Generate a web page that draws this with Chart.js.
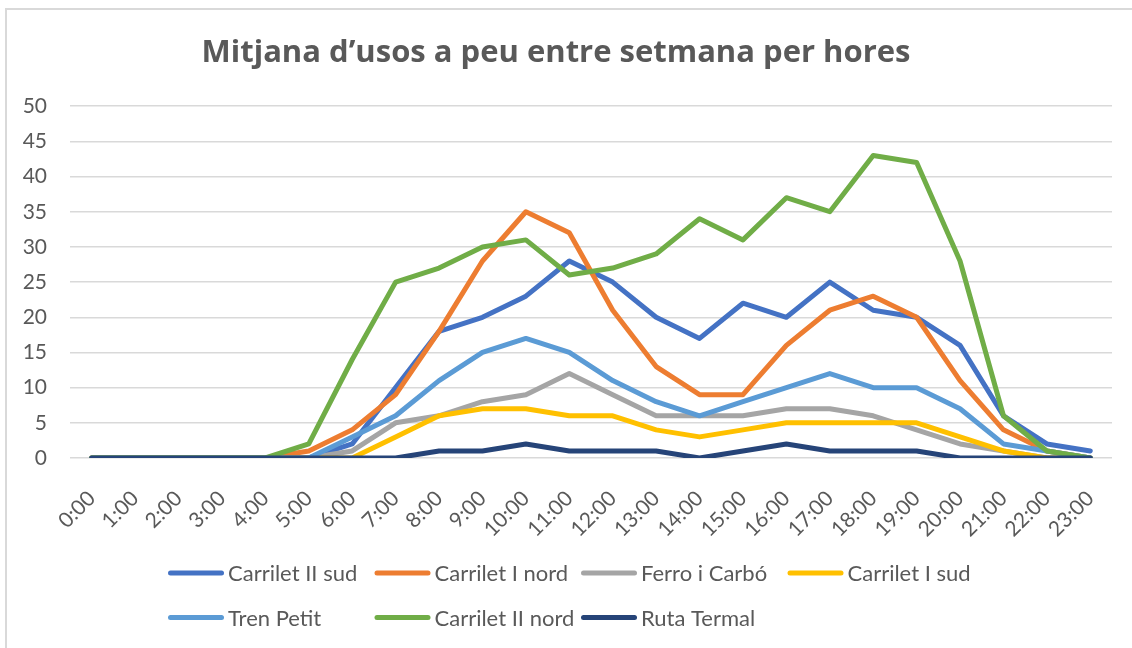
<!DOCTYPE html>
<html>
<head>
<meta charset="utf-8">
<script src="https://cdn.jsdelivr.net/npm/chart.js@4.4.1/dist/chart.umd.min.js"></script>
<style>
  body { margin: 0; background: #fff; overflow: hidden; }
  #wrap { position: relative; width: 1132px; height: 648px; }
  #frame { position: absolute; left: 5px; top: 8px; width: 1200px; height: 700px; border: 2px solid #d9d9d9; }
  canvas { position: absolute; left: 0; top: 0; }
</style>
</head>
<body>
<div id="wrap">
  <div id="frame"></div>
  <canvas id="usosChart" width="1132" height="648"></canvas>
</div>
<script>
const hours = ['0:00', '1:00', '2:00', '3:00', '4:00', '5:00', '6:00', '7:00', '8:00', '9:00', '10:00', '11:00',
    '12:00', '13:00', '14:00', '15:00', '16:00', '17:00', '18:00', '19:00', '20:00', '21:00', '22:00', '23:00'];

const carriletIISud  = [0, 0, 0, 0, 0, 0, 2, 10, 18, 20, 23, 28, 25, 20, 17, 22, 20, 25, 21, 20, 16, 6, 2, 1];
const carriletINord  = [0, 0, 0, 0, 0, 1, 4, 9, 18, 28, 35, 32, 21, 13, 9, 9, 16, 21, 23, 20, 11, 4, 1, 0];
const ferroICarbo    = [0, 0, 0, 0, 0, 0, 1, 5, 6, 8, 9, 12, 9, 6, 6, 6, 7, 7, 6, 4, 2, 1, 0, 0];
const carriletISud   = [0, 0, 0, 0, 0, 0, 0, 3, 6, 7, 7, 6, 6, 4, 3, 4, 5, 5, 5, 5, 3, 1, 0, 0];
const trenPetit      = [0, 0, 0, 0, 0, 0, 3, 6, 11, 15, 17, 15, 11, 8, 6, 8, 10, 12, 10, 10, 7, 2, 1, 0];
const carriletIINord = [0, 0, 0, 0, 0, 2, 14, 25, 27, 30, 31, 26, 27, 29, 34, 31, 37, 35, 43, 42, 28, 6, 1, 0];
const rutaTermal     = [0, 0, 0, 0, 0, 0, 0, 0, 1, 1, 2, 1, 1, 1, 0, 1, 2, 1, 1, 1, 0, 0, 0, 0];

const seriesNames = ['Carrilet II sud', 'Carrilet I nord', 'Ferro i Carbó', 'Carrilet I sud',
    'Tren Petit', 'Carrilet II nord', 'Ruta Termal'];
const seriesValues = [carriletIISud, carriletINord, ferroICarbo, carriletISud, trenPetit, carriletIINord, rutaTermal];
const seriesColors = ['#4472c4', '#ed7d31', '#a5a5a5', '#ffc000', '#5b9bd5', '#70ad47', '#264478'];

const FONT = "Lato, 'Open Sans', sans-serif";
const TEXT = '#595959';

// Excel-style legend: fixed columns, two rows, short line before each name
const lineLegend = {
    id: 'lineLegend',
    afterDraw(chart, args, opts) {
        const ctx = chart.ctx;
        ctx.save();
        chart.data.datasets.forEach((ds, i) => {
            const x = opts.left + (i % opts.columns) * opts.colWidth;
            const y = opts.top + Math.floor(i / opts.columns) * opts.rowHeight;
            ctx.strokeStyle = ds.borderColor;
            ctx.lineWidth = 5;
            ctx.lineCap = 'round';
            ctx.beginPath();
            ctx.moveTo(x + 2.5, y);
            ctx.lineTo(x + opts.lineLength - 2.5, y);
            ctx.stroke();
            ctx.fillStyle = TEXT;
            ctx.font = opts.font;
            ctx.textBaseline = 'middle';
            ctx.fillText(ds.label, x + opts.lineLength + 4, y + 1);
        });
        ctx.restore();
    }
};

const ctx = document.getElementById('usosChart').getContext('2d');
const usosChart = new Chart(ctx, {
    type: 'line',
    data: {
        labels: hours,
        datasets: seriesNames.map((name, i) => ({
            label: name,
            data: seriesValues[i],
            borderColor: seriesColors[i],
            backgroundColor: seriesColors[i],
            borderWidth: 5,
            borderCapStyle: 'round',
            borderJoinStyle: 'round',
            pointRadius: 0,
            tension: 0,
            order: seriesNames.length - i
        }))
    },
    options: {
        responsive: false,
        animation: false,
        layout: { padding: { left: 0, right: 20, top: 0, bottom: 110 } },
        scales: {
            x: {
                offset: true,
                grid: { display: false },
                border: { display: false },
                ticks: {
                    color: TEXT,
                    font: { family: FONT, size: 21 },
                    minRotation: 45,
                    maxRotation: 45,
                    autoSkip: false,
                    padding: 20
                },
                afterFit: s => { s.height = 80; }
            },
            y: {
                min: 0,
                max: 50,
                grid: { color: '#d9d9d9', lineWidth: 1.5, drawTicks: false },
                border: { display: false },
                ticks: {
                    stepSize: 5,
                    color: TEXT,
                    font: { family: FONT, size: 21 },
                    padding: 23
                },
                afterFit: s => { s.width = 70; }
            }
        },
        plugins: {
            legend: { display: false },
            tooltip: { enabled: false },
            title: {
                display: true,
                text: 'Mitjana d’usos a peu entre setmana per hores',
                color: TEXT,
                font: { family: "'Open Sans', sans-serif", size: 31, weight: 'bold' },
                padding: { top: 35, bottom: 34 }
            },
            lineLegend: {
                left: 168,
                top: 573,
                columns: 4,
                colWidth: 206.5,
                rowHeight: 44.5,
                lineLength: 56,
                font: '22px ' + FONT
            }
        }
    },
    plugins: [lineLegend]
});
</script>
</body>
</html>
